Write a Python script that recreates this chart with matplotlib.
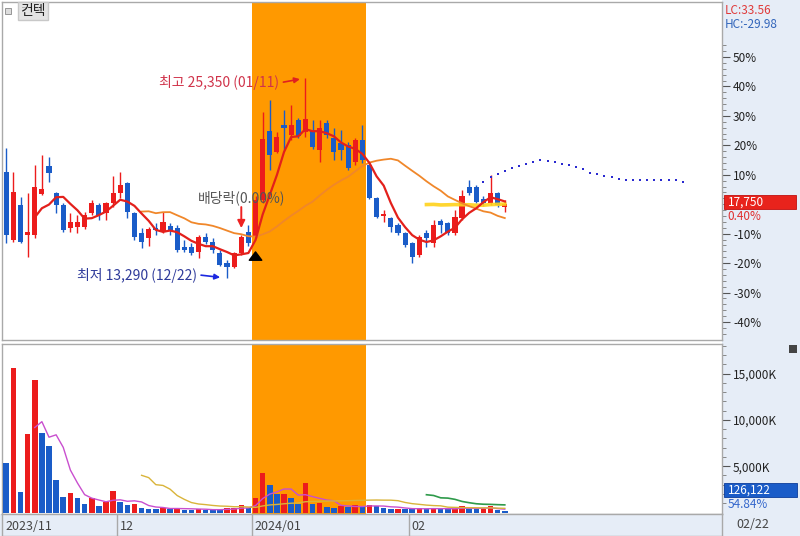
import numpy as np
import pandas as pd
import matplotlib
matplotlib.use('Agg')
import matplotlib.pyplot as plt
from matplotlib.patches import Rectangle

plt.rcParams['font.family'] = ['Noto Sans CJK KR', 'DejaVu Sans']

#------------------------------------------------------------------------------
# data (daily candles, 2023-11 ~ 2024-02-22, price in KRW, volume in 1000 shares)

opens  = [19710, 15590, 17700, 15890, 15890, 18360, 20050, 18410, 17700, 16300,
          16390, 16360, 17200, 17700, 17200, 17800, 18410, 19050, 17200, 16030,
          15690, 16330, 16090, 16440, 16300, 15190, 15150, 14890, 15750, 15490,
          14790, 14220, 13980, 14790, 16090, 15830, 18000, 22160, 20910, 22520,
          21920, 22830, 22120, 22180, 21020, 22660, 21720, 21460, 21320, 20290,
          21650, 20110, 18100, 17040, 16900, 16500, 16000, 15390, 14690, 16000,
          15390, 16740, 16600, 16000, 16900, 18800, 18770, 18040, 17800, 18440,
          17580]
highs  = [21120, 19710, 18200, 18420, 20110, 20710, 20610, 18500, 17820, 17200,
          17100, 17300, 18000, 17800, 17900, 19450, 19710, 19110, 17300, 16300,
          16390, 16600, 17300, 16620, 16500, 15590, 15410, 15890, 15990, 15690,
          14990, 14380, 14890, 15890, 16500, 18240, 23330, 24030, 22120, 23430,
          23730, 22950, 25350, 22830, 22830, 22830, 22330, 22220, 21520, 21720,
          22520, 20210, 18200, 17400, 17000, 16600, 16090, 15490, 15890, 16190,
          16800, 16840, 16700, 17400, 18600, 19210, 18910, 18240, 19510, 18500,
          18000]
lows   = [15390, 15490, 15390, 14580, 15690, 18300, 19110, 17200, 16090, 16090,
          15990, 16240, 17100, 16800, 16800, 17600, 18100, 16900, 15590, 15090,
          15230, 15890, 15990, 15890, 14890, 14890, 14690, 14490, 15350, 14790,
          14020, 13290, 13880, 14690, 15230, 15710, 17820, 19810, 20820, 21020,
          21620, 21740, 21820, 21060, 20310, 21720, 20410, 20410, 19810, 20110,
          20210, 18060, 16900, 16690, 16090, 15890, 15190, 14220, 14580, 15190,
          15150, 16000, 15890, 15890, 16800, 18300, 17800, 17640, 17700, 17600,
          17300]
closes = [15890, 18500, 15490, 16090, 18800, 18650, 19610, 17700, 16190, 16700,
          16700, 17100, 17840, 17100, 17800, 18440, 18910, 17300, 15790, 15490,
          16240, 16190, 16700, 16190, 14990, 14990, 14830, 15790, 15490, 14990,
          14080, 13980, 14790, 15790, 15390, 18000, 21660, 20720, 21780, 22330,
          22520, 21860, 22870, 21180, 22330, 21920, 20910, 21020, 19960, 21620,
          20410, 18150, 17000, 17160, 16390, 16000, 15290, 14580, 15790, 15690,
          16500, 16500, 16000, 16960, 18240, 18440, 17900, 17840, 18410, 17680,
          17750]
volume = [5380, 15570, 2180, 8450, 14310, 8550, 7180, 3470, 1670, 2070,
          1530, 920, 1570, 670, 1130, 2320, 1170, 780, 920, 520,
          380, 370, 520, 380, 520, 300, 290, 380, 300, 290,
          280, 450, 520, 780, 450, 1530, 4230, 2970, 1950, 2010,
          1530, 920, 3220, 920, 1060, 630, 520, 740, 590, 780,
          590, 850, 740, 520, 380, 420, 400, 380, 450, 380,
          490, 380, 370, 410, 670, 410, 380, 410, 670, 230, 126.122]

# dotted projection line after the last candles
forecast_start = 67
forecast = [19110, 19370, 19570, 19750, 19910, 20070, 20170, 20290, 20420, 20370,
            20280, 20190, 20100, 20010, 19850, 19650, 19550, 19450, 19370, 19290,
            19230, 19210, 19210, 19210, 19210, 19210, 19190, 19190, 19110]

month_labels = ['2023/11', '12', '2024/01', '02']
month_start  = [0, 16, 35, 57]
last_date    = '02/22'

highlight = (35, 50)      # shaded period (first / last candle)
exdiv_idx = 33            # 배당락 day
pct_ticks = [-40, -30, -20, -10, 10, 20, 30, 40, 50]
vol_ticks = [5000, 10000, 15000]

#------------------------------------------------------------------------------
# derived

o, h, l, c = map(np.array, (opens, highs, lows, closes))
v = np.array(volume)
x = np.arange(len(c))
base = c[-1]

ma5, ma20, ma60 = [pd.Series(c).rolling(n).mean() for n in (5, 20, 60)]
vma5, vma20, vma60 = [pd.Series(v).rolling(n).mean() for n in (5, 20, 60)]

RED, BLUE = '#ec1c1c', '#1a5cc8'
ORANGE = '#ff9900'
PANEL = '#e6edf7'
GRID = '#a9a9a9'

W, H = 800, 536
def frac(x0, y0, x1, y1):
    return [x0 / W, 1 - y1 / H, (x1 - x0) / W, (y1 - y0) / H]

def ftext(px, py, s, **kw):
    return fig.text(px / W, 1 - py / H, s, **kw)

fig = plt.figure(figsize=(8, 5.36), dpi=100)
fig.patch.set_facecolor('white')
fig.add_artist(Rectangle((722 / W, 0), 78 / W, 1, transform=fig.transFigure,
                         facecolor=PANEL, edgecolor='none', zorder=-5))
fig.add_artist(Rectangle((0, 0), 1, 22 / H, transform=fig.transFigure,
                         facecolor=PANEL, edgecolor='none', zorder=-5))

ax_p = fig.add_axes(frac(2, 2, 722, 340))
ax_v = fig.add_axes(frac(2, 344, 722, 514))
ax_d = fig.add_axes(frac(2, 514, 722, 536))

xlim = (-0.6, 100.5)
for ax in (ax_p, ax_v, ax_d):
    ax.set_xlim(*xlim)
    ax.set_xticks([])
    for sp in ax.spines.values():
        sp.set_color(GRID)
        sp.set_linewidth(1)

for ax in (ax_p, ax_v):
    ax.axvspan(highlight[0] - 0.5, highlight[1] + 0.5, color=ORANGE, lw=0, zorder=0)
    ax.yaxis.tick_right()
    ax.tick_params(axis='y', which='major', length=6, width=0.8, pad=2,
                   labelsize=8.5, colors='#555555', labelcolor='#222222')
    ax.tick_params(axis='y', which='minor', length=3, width=0.6, colors='#777777')

#------------------------------------------------------------------------------
# price panel

ax_p.set_ylim(9562, 29940)
up = c >= o
col = np.where(up, RED, BLUE)
ax_p.vlines(x, l, h, colors=col, lw=1.0, zorder=3)
body = np.maximum(np.abs(c - o), 60)
ax_p.bar(x, body, bottom=np.minimum(o, c), width=0.72, color=col, lw=0, zorder=4)

ax_p.plot(x, ma60, color='#ffd21a', lw=2.6, alpha=0.9, zorder=5)
ax_p.plot(x, ma20, color='#f0872a', lw=1.3, zorder=5)
ax_p.plot(x, ma5, color='#e3201b', lw=1.6, zorder=6)

fx = np.arange(forecast_start, forecast_start + len(forecast))
ax_p.plot(fx, forecast, ls='none', marker='s', ms=1.8, mew=0, color='#2a2ad0', zorder=6)

ax_p.set_yticks([base * (1 + p / 100) for p in pct_ticks])
ax_p.set_yticklabels([f'{p}%' for p in pct_ticks])
ax_p.set_yticks([base * (1 + p / 100) for p in range(-44, 56, 2)], minor=True)

# high / low markers
ih, il = int(np.argmax(h)), int(np.argmin(l))
ax_p.annotate(f'최고 {h[ih]:,} (01/11)', xy=(ih, h[ih]), xytext=(-26, -4),
              textcoords='offset pixels', ha='right', va='center',
              fontsize=10, color='#d0334a', zorder=8)
ax_p.annotate('', xy=(ih, h[ih]), xytext=(-22, -4), textcoords='offset pixels',
              arrowprops=dict(arrowstyle='-|>', color='#e02020', lw=1.2,
                              mutation_scale=8, shrinkA=0, shrinkB=4), zorder=8)
ax_p.annotate(f'최저 {l[il]:,} (12/22)', xy=(il, l[il]), xytext=(-30, 3),
              textcoords='offset pixels', ha='right', va='center',
              fontsize=10, color='#2e3a9a', zorder=8)
ax_p.annotate('', xy=(il, l[il]), xytext=(-26, 3), textcoords='offset pixels',
              arrowprops=dict(arrowstyle='-|>', color='#1c28e0', lw=1.2,
                              mutation_scale=8, shrinkA=0, shrinkB=5), zorder=8)

# ex-dividend mark
ax_p.annotate('배당락(0.00%)', xy=(exdiv_idx, h[exdiv_idx]), xytext=(0, 37),
              textcoords='offset pixels', ha='center', va='center',
              fontsize=10, color='#555555', zorder=8)
ax_p.annotate('', xy=(exdiv_idx, h[exdiv_idx]), xytext=(0, 28),
              textcoords='offset pixels',
              arrowprops=dict(arrowstyle='-|>', color='#ee2222', lw=1.4,
                              mutation_scale=11, shrinkA=0, shrinkB=5), zorder=8)
ax_p.annotate('', xy=(highlight[0], l[highlight[0]]), xytext=(0, -22),
              textcoords='offset pixels',
              arrowprops=dict(arrowstyle='simple,head_width=0.9,head_length=0.6,tail_width=0.45',
                              color='black', shrinkA=0, shrinkB=10), zorder=8)

# current price label
ppx = (29940 - 9562) / 338
yt = ax_p.get_yaxis_transform()
ax_p.add_patch(Rectangle((1.003, base - 5 * ppx), 0.1, 14 * ppx, transform=yt,
                         facecolor='#e8231c', edgecolor='#c01010', lw=0.6,
                         clip_on=False, zorder=9))
ax_p.text(1.008, base + 2 * ppx, f'{base:,}', transform=yt, color='white',
          fontsize=8.5, va='center', ha='left', clip_on=False, zorder=10)
chg = (c[-1] / c[-2] - 1) * 100
ax_p.text(1.008, base - 12 * ppx, f'{chg:.2f}%', transform=yt, color='#e03030',
          fontsize=8.5, va='center', ha='left', clip_on=False, zorder=10)

lc = (base / l.min() - 1) * 100
hc = (base / h.max() - 1) * 100
ftext(725, 11, f'LC:{lc:.2f}', color='#e03a3a', fontsize=8.5, va='center')
ftext(725, 25, f'HC:{hc:.2f}', color='#3366bb', fontsize=8.5, va='center')

# stock name tag
fig.add_artist(Rectangle((5 / W, 1 - 14 / H), 6 / W, 6 / H, transform=fig.transFigure,
                         facecolor='#dddddd', edgecolor='#888888', lw=0.6))
ftext(33, 11, '컨텍', fontsize=10, ha='center', va='center', color='#222222',
      bbox=dict(boxstyle='square,pad=0.15', facecolor='#e4e4e4', edgecolor='#c8c8c8'))

#------------------------------------------------------------------------------
# volume panel

ax_v.set_ylim(-160, 18200)
vcol = np.where(np.r_[False, np.diff(v) > 0], RED, BLUE)
ax_v.bar(x, v, width=0.78, color=vcol, lw=0, zorder=3)
ax_v.plot(x, vma5, color='#c94fcf', lw=1.0, zorder=4)
ax_v.plot(x, vma20, color='#d9b43a', lw=1.0, zorder=4)
ax_v.plot(x, vma60, color='#2e9a4a', lw=1.2, zorder=4)
ax_v.set_yticks(vol_ticks)
ax_v.set_yticklabels([f'{t:,}K' for t in vol_ticks])
ax_v.set_yticks(range(1000, 18001, 1000), minor=True)

fig.add_artist(Rectangle((789 / W, 1 - 353 / H), 8 / W, 8 / H,
                         transform=fig.transFigure, facecolor='#444444', lw=0))
fig.add_artist(Rectangle((724 / W, 1 - 497 / H), 73 / W, 14 / H, transform=fig.transFigure,
                         facecolor='#1a5cc8', edgecolor='#0c3c9a', lw=0.6))
ftext(728, 490, f'{v[-1] * 1000:,.0f}', color='white', fontsize=8.5, va='center')
ftext(728, 505, f'{v[-1] / v[-2] * 100:.2f}%', color='#3366cc', fontsize=8.5, va='center')

#------------------------------------------------------------------------------
# date strip

ax_d.set_facecolor(PANEL)
ax_d.set_ylim(0, 1)
ax_d.set_yticks([])
for lab, s in zip(month_labels, month_start):
    if s > 0:
        ax_d.axvline(s - 0.5, color=GRID, lw=1)
    ax_d.annotate(lab, xy=(s - 0.5, 0.45), xytext=(3, 0), textcoords='offset pixels',
                  ha='left', va='center', fontsize=9, color='#444444')
ftext(736, 525, last_date, fontsize=9, color='#444444', va='center')

fig.savefig('out.png', dpi=100)
